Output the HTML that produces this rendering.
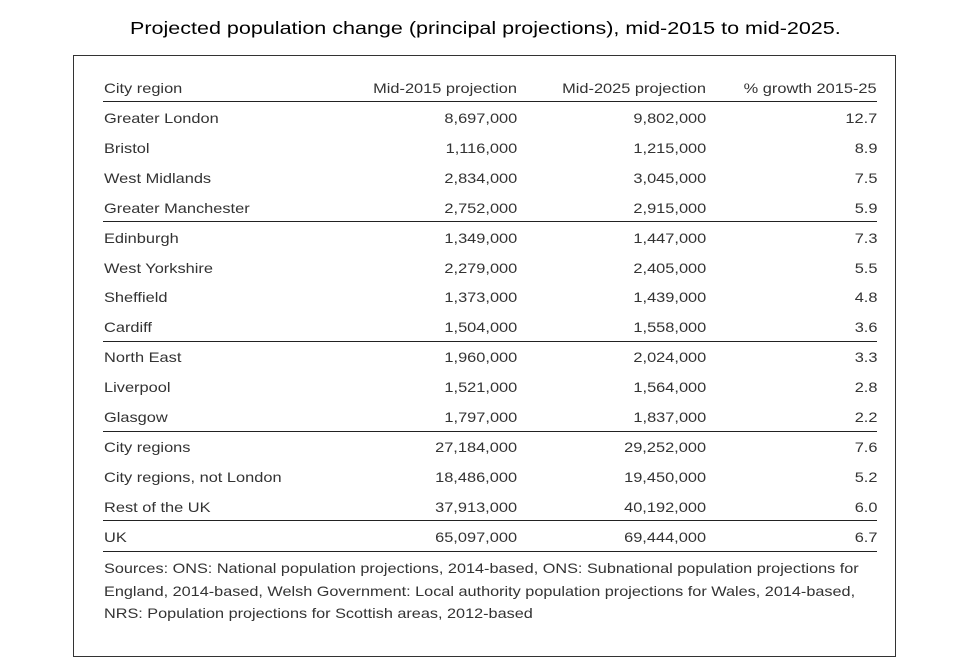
<!DOCTYPE html>
<html><head><meta charset="utf-8"><style>
body{margin:0;width:960px;height:640px;background:#fff;position:relative;overflow:hidden;font-family:"Liberation Sans",sans-serif}
.t{position:absolute;left:130px;top:18px;font-size:17.5px;color:#000;white-space:nowrap;transform:scaleX(1.23);transform-origin:left}
.box{position:absolute;left:73px;top:55px;width:821px;height:600px;border:1px solid #333}
.r{position:absolute;left:103px;width:774px;height:20px;font-size:14px;color:#333;line-height:20px}
.r span{position:absolute;top:0;white-space:nowrap;transform:scaleX(1.17)}
.a{left:1px;transform-origin:left}.b{right:360px;transform-origin:right}.c{right:171px;transform-origin:right}.d{right:0;transform-origin:right}
.r span.a{transform-origin:left center}.r span.b,.r span.c,.r span.d{transform-origin:right center}
.l{position:absolute;left:103px;width:774px;height:0;border-top:1.5px solid #222}
.s{position:absolute;left:104px;top:557px;font-size:14px;color:#333;line-height:22.5px;white-space:nowrap;transform:scaleX(1.16);transform-origin:left top}
</style></head><body>
<div class="t">Projected population change (principal projections), mid-2015 to mid-2025.</div>
<div class="box"></div>
<div class="r" style="top:78px"><span class="a">City region</span><span class="b">Mid-2015 projection</span><span class="c">Mid-2025 projection</span><span class="d">% growth 2015-25</span></div>
<div class="l" style="top:101px"></div>
<div class="r" style="top:108px"><span class="a">Greater London</span><span class="b">8,697,000</span><span class="c">9,802,000</span><span class="d">12.7</span></div>
<div class="r" style="top:138px"><span class="a">Bristol</span><span class="b">1,116,000</span><span class="c">1,215,000</span><span class="d">8.9</span></div>
<div class="r" style="top:168px"><span class="a">West Midlands</span><span class="b">2,834,000</span><span class="c">3,045,000</span><span class="d">7.5</span></div>
<div class="r" style="top:198px"><span class="a">Greater Manchester</span><span class="b">2,752,000</span><span class="c">2,915,000</span><span class="d">5.9</span></div>
<div class="l" style="top:221px"></div>
<div class="r" style="top:228px"><span class="a">Edinburgh</span><span class="b">1,349,000</span><span class="c">1,447,000</span><span class="d">7.3</span></div>
<div class="r" style="top:258px"><span class="a">West Yorkshire</span><span class="b">2,279,000</span><span class="c">2,405,000</span><span class="d">5.5</span></div>
<div class="r" style="top:287px"><span class="a">Sheffield</span><span class="b">1,373,000</span><span class="c">1,439,000</span><span class="d">4.8</span></div>
<div class="r" style="top:317px"><span class="a">Cardiff</span><span class="b">1,504,000</span><span class="c">1,558,000</span><span class="d">3.6</span></div>
<div class="l" style="top:341px"></div>
<div class="r" style="top:347px"><span class="a">North East</span><span class="b">1,960,000</span><span class="c">2,024,000</span><span class="d">3.3</span></div>
<div class="r" style="top:377px"><span class="a">Liverpool</span><span class="b">1,521,000</span><span class="c">1,564,000</span><span class="d">2.8</span></div>
<div class="r" style="top:407px"><span class="a">Glasgow</span><span class="b">1,797,000</span><span class="c">1,837,000</span><span class="d">2.2</span></div>
<div class="l" style="top:431px"></div>
<div class="r" style="top:437px"><span class="a">City regions</span><span class="b">27,184,000</span><span class="c">29,252,000</span><span class="d">7.6</span></div>
<div class="r" style="top:467px"><span class="a">City regions, not London</span><span class="b">18,486,000</span><span class="c">19,450,000</span><span class="d">5.2</span></div>
<div class="r" style="top:497px"><span class="a">Rest of the UK</span><span class="b">37,913,000</span><span class="c">40,192,000</span><span class="d">6.0</span></div>
<div class="l" style="top:520px"></div>
<div class="r" style="top:527px"><span class="a">UK</span><span class="b">65,097,000</span><span class="c">69,444,000</span><span class="d">6.7</span></div>
<div class="l" style="top:551px"></div>
<div class="s">Sources: ONS: National population projections, 2014-based, ONS: Subnational population projections for<br>England, 2014-based, Welsh Government: Local authority population projections for Wales, 2014-based,<br>NRS: Population projections for Scottish areas, 2012-based</div>
</body></html>
